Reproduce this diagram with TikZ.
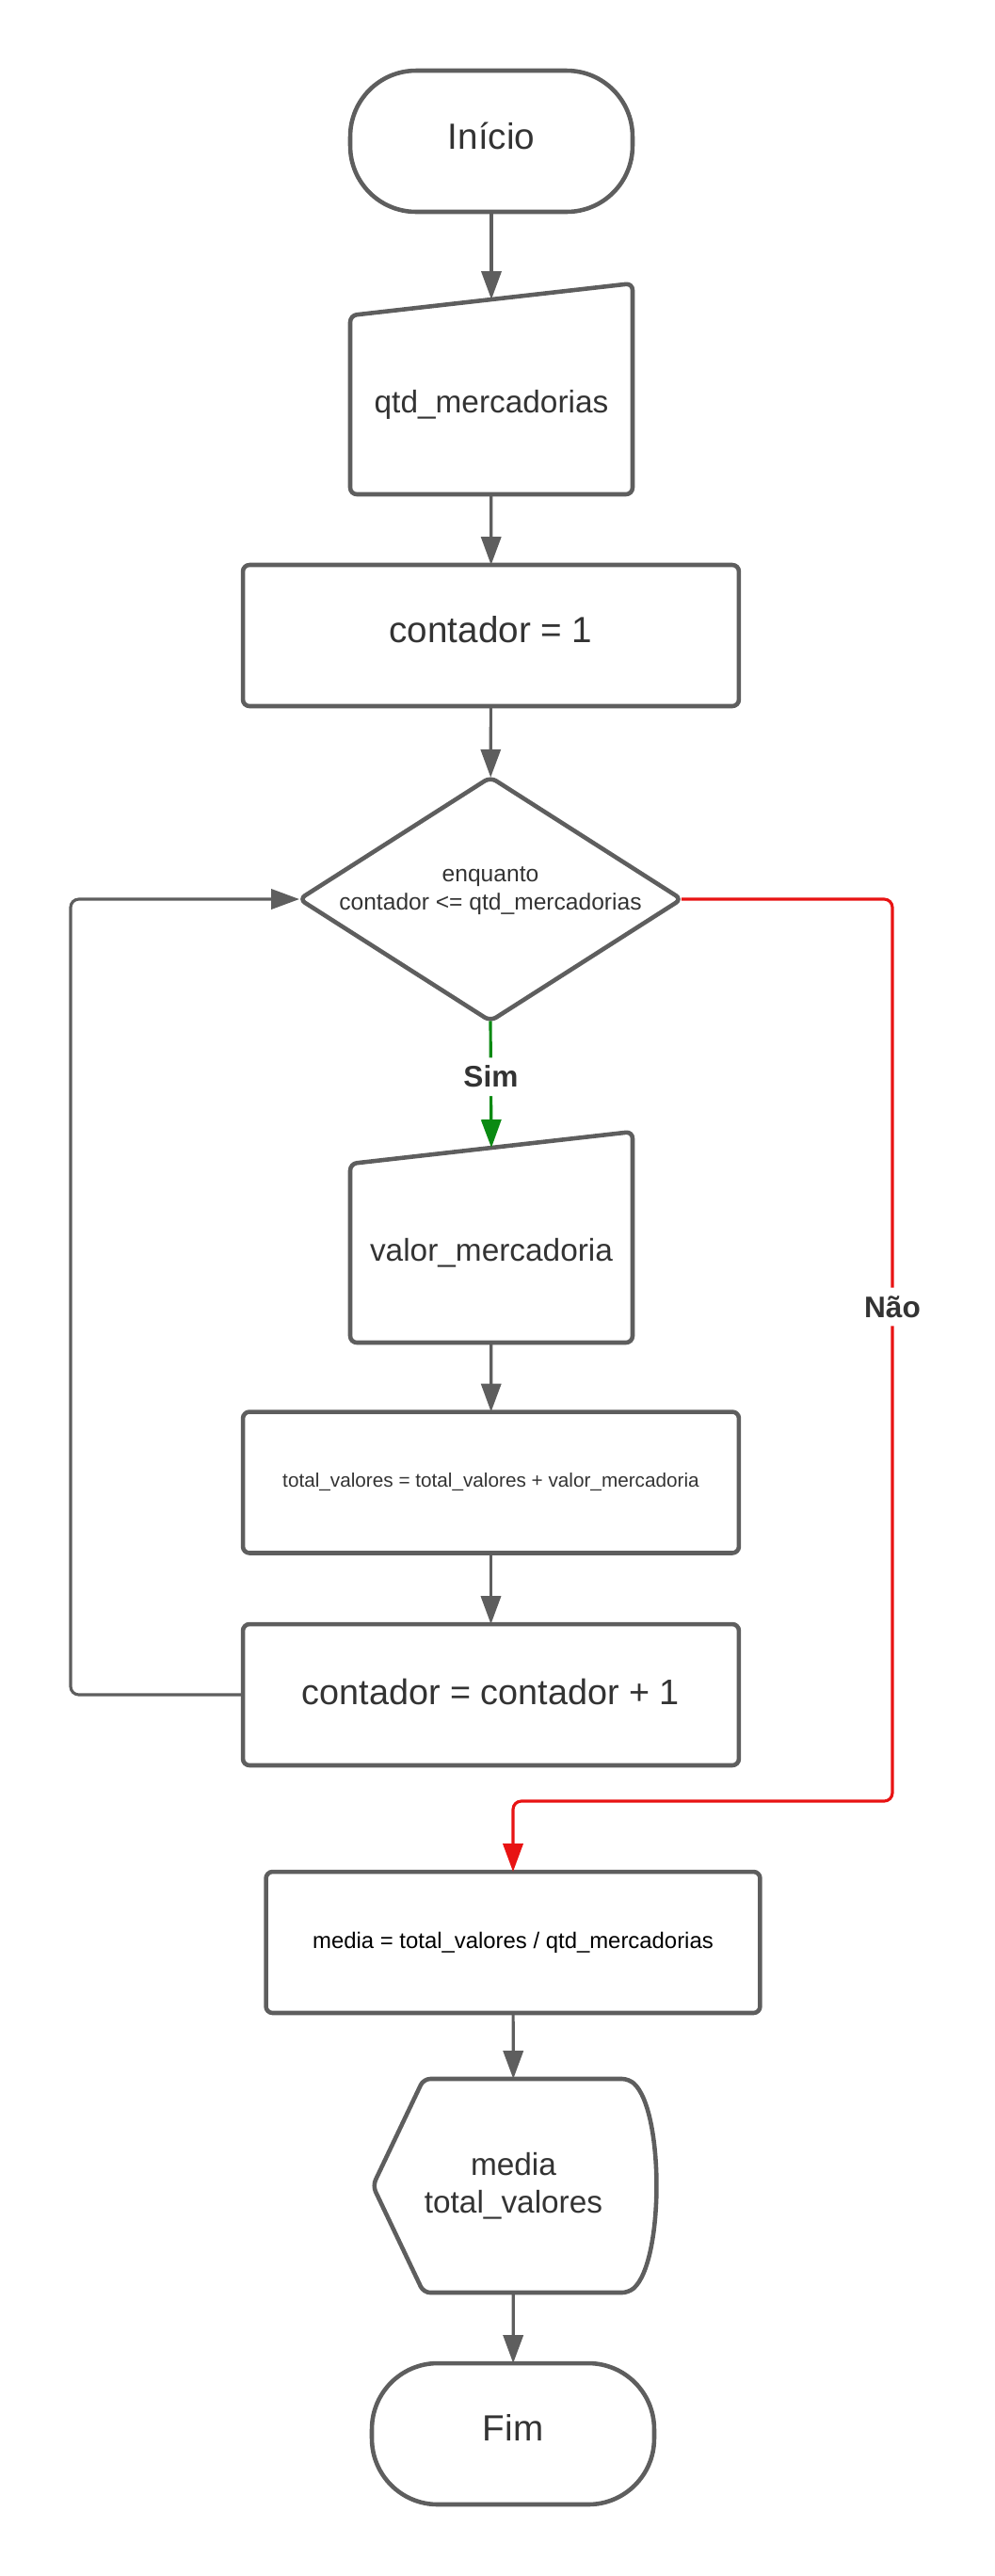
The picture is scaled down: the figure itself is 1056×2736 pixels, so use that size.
\documentclass[tikz,border=0pt]{standalone}
\usepackage{fontspec}
\setmainfont{Liberation Sans}
\usetikzlibrary{shapes.geometric,arrows.meta}
\definecolor{linegray}{HTML}{5E5E5E}
\definecolor{txtgray}{HTML}{333333}
\definecolor{naored}{HTML}{E81313}
\definecolor{simgreen}{HTML}{0A8A12}

\begin{document}
\begin{tikzpicture}[x=0.02cm,y=-0.02cm,
	shapebox/.style={draw=linegray,line width=2.6pt,outer sep=0pt,rounded corners=4pt,text=txtgray,align=center},
	terminal/.style={shapebox,rounded corners=1.4cm,text depth=7pt,minimum width=6cm,minimum height=3cm,font=\fontsize{22}{26.4}\selectfont},
	procbox/.style={shapebox,minimum width=10.54cm,minimum height=3cm},
	inbox/.style={text=txtgray,align=center,outer sep=0pt,minimum width=6cm,minimum height=3.8cm,font=\fontsize{19}{22.8}\selectfont},
	outline/.style={draw=linegray,line width=2.6pt,rounded corners=4pt},
	flow/.style={draw=linegray,line width=1.8pt,rounded corners=5pt,-{Triangle[length=17pt,width=12pt]}},
	answer/.style={fill=white,text=txtgray,font=\bfseries\fontsize{18}{21.6}\selectfont,inner sep=5pt}]
	\useasboundingbox (0,0) rectangle (1056,2736);
	\node[terminal] (ini) at (522,150) {Início};
	\node[inbox] (qtd) at (522,430) {qtd\_mercadorias};
	\draw[outline] (qtd.north west) -- ([yshift=0.68cm]qtd.north east) -- (qtd.south east) -- (qtd.south west) -- cycle;
	\coordinate (qtdtop) at ([yshift=0.34cm]qtd.north);
	\node[procbox,text depth=7pt,font=\fontsize{22}{26.4}\selectfont] (cont1) at (521.5,675) {contador = 1};
	\node[shapebox,diamond,shape aspect=1.57,inner sep=0pt,minimum width=8.12cm,minimum height=5.18cm] (cond) at (521,955) {};
	\node[text=txtgray,align=center,font=\fontsize{14}{16.8}\selectfont] (condtext) at (521,946) {enquanto\\contador <= qtd\_mercadorias};
	\node[inbox] (valor) at (522,1331) {valor\_mercadoria};
	\draw[outline] (valor.north west) -- ([yshift=0.68cm]valor.north east) -- (valor.south east) -- (valor.south west) -- cycle;
	\coordinate (valortop) at ([yshift=0.34cm]valor.north);
	\node[procbox,font=\fontsize{11.8}{14}\selectfont] (soma) at (521.5,1574.5) {total\_valores = total\_valores + valor\_mercadoria};
	\node[procbox,text depth=4pt,font=\fontsize{21.5}{25.8}\selectfont] (inc) at (521.5,1800) {contador = contador + 1};
	\node[procbox,minimum width=10.5cm,text=black,font=\fontsize{13.6}{16}\selectfont] (media) at (545,2063) {media = total\_valores / qtd\_mercadorias};
	\node[inbox,minimum width=5.98cm,minimum height=4.54cm] (disp) at (545.5,2321.5) {media\\total\_valores};
	\begin{scope}[shift={(disp.center)}]
		\draw[outline] (-149.5,0) -- (-95.5,-113.5) -- (122.5,-113.5) .. controls (160,-80) and (160,80) .. (122.5,113.5) -- (-95.5,113.5) -- cycle;
	\end{scope}
	\node[terminal] (fim) at (545,2585) {Fim};
	\coordinate (looptop) at (75,955);
	\coordinate (naocorner) at (948,1913);
	\draw[flow] (ini) -- (qtdtop);
	\draw[flow] (qtd) -- (cont1);
	\draw[flow] (cont1) -- (cond);
	\draw[flow,draw=simgreen] (cond.south) -- node[answer,pos=0.44] {Sim} (valortop);
	\draw[flow] (valor) -- (soma);
	\draw[flow] (soma) -- (inc);
	\draw[flow] (inc.west) -| (looptop) -- (cond.west);
	\draw[flow,draw=naored] (cond.east) -| node[answer,pos=0.726] {Não} (naocorner) -| (media.north);
	\draw[flow] (media) -- (disp);
	\draw[flow] (disp) -- (fim);
\end{tikzpicture}
\end{document}
